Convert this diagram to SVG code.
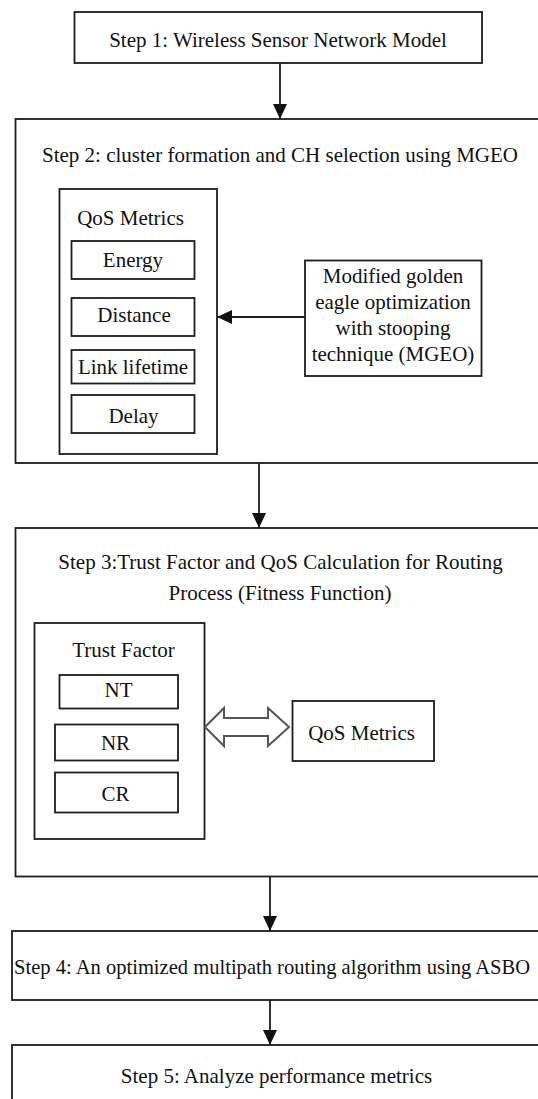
<svg xmlns="http://www.w3.org/2000/svg" width="538" height="1099" viewBox="0 0 538 1099">
<defs>
<style>
.box{fill:#fff;stroke:#1c1c1c;stroke-width:1.8}
text{font-family:'Liberation Serif','Times New Roman','DejaVu Serif',serif;font-size:21px;fill:#111}
.t{text-anchor:middle}
.ts{text-anchor:start}
.con{stroke:#1c1c1c;stroke-width:1.8;fill:none}
</style>
<marker id="ah" markerUnits="userSpaceOnUse" markerWidth="16" markerHeight="14" refX="15" refY="7" orient="auto">
<path d="M0,0 L15,7 L0,14 Z" fill="#111"/>
</marker>
</defs>
<rect width="538" height="1099" fill="#fff"/>

<g id="step1">
<rect class="box" x="74.5" y="12" width="407.5" height="51"/>
<text class="t" x="278" y="47" font-family="Liberation Serif, serif">Step 1: Wireless Sensor Network Model</text>
</g>

<g id="step2">
<rect class="box" x="15.5" y="119" width="560" height="344"/>
<text class="t" x="280" y="162" font-family="Liberation Serif, serif">Step 2: cluster formation and CH selection using MGEO</text>
</g>

<g id="qos2">
<rect class="box" x="59.5" y="189" width="157.5" height="265"/>
<text class="t" x="130.5" y="225" font-family="Liberation Serif, serif">QoS Metrics</text>
</g>
<g id="energy">
<rect class="box" x="71.5" y="241" width="123" height="38"/>
<text class="t" x="133" y="267" font-family="Liberation Serif, serif">Energy</text>
</g>
<g id="distance">
<rect class="box" x="71.5" y="298" width="123" height="38"/>
<text class="t" x="134" y="322" font-family="Liberation Serif, serif">Distance</text>
</g>
<g id="link">
<rect class="box" x="71.5" y="350" width="123" height="33.5"/>
<text class="t" x="133" y="374" font-family="Liberation Serif, serif">Link lifetime</text>
</g>
<g id="delay">
<rect class="box" x="71.5" y="395" width="123" height="38"/>
<text class="t" x="133.5" y="423" font-family="Liberation Serif, serif">Delay</text>
</g>

<g id="mgeo">
<rect class="box" x="305" y="260.5" width="176.5" height="115.5"/>
<text class="t" x="393" y="283" font-family="Liberation Serif, serif">Modified golden</text>
<text class="t" x="393" y="309" font-family="Liberation Serif, serif">eagle optimization</text>
<text class="t" x="393" y="335" font-family="Liberation Serif, serif">with stooping</text>
<text class="t" x="393" y="361" font-family="Liberation Serif, serif">technique (MGEO)</text>
</g>

<g id="step3">
<rect class="box" x="15.5" y="528" width="560" height="348.5"/>
<text class="t" x="280.5" y="569" font-family="Liberation Serif, serif">Step 3:Trust Factor and QoS Calculation for Routing</text>
<text class="t" x="280" y="600" font-family="Liberation Serif, serif">Process (Fitness Function)</text>
</g>

<g id="trust">
<rect class="box" x="34.5" y="623" width="170" height="216"/>
<text class="t" x="123.5" y="657" font-family="Liberation Serif, serif">Trust Factor</text>
</g>
<g id="nt">
<rect class="box" x="59.5" y="675" width="118.5" height="33.5"/>
<text class="t" x="118.5" y="697" font-family="Liberation Serif, serif">NT</text>
</g>
<g id="nr">
<rect class="box" x="55" y="724.5" width="123" height="36"/>
<text class="t" x="115.5" y="750" font-family="Liberation Serif, serif">NR</text>
</g>
<g id="cr">
<rect class="box" x="55" y="772.5" width="123" height="40"/>
<text class="t" x="115.5" y="801" font-family="Liberation Serif, serif">CR</text>
</g>

<g id="qos3">
<rect class="box" x="292.5" y="701" width="141.5" height="60"/>
<text class="t" x="361.5" y="740" font-family="Liberation Serif, serif">QoS Metrics</text>
</g>

<g id="step4">
<rect class="box" x="12" y="931" width="560" height="69"/>
<text class="ts" x="14" y="973.5" font-family="Liberation Serif, serif" textLength="516" lengthAdjust="spacingAndGlyphs">Step 4: An optimized multipath routing algorithm using ASBO</text>
</g>

<g id="step5">
<rect class="box" x="12" y="1045" width="560" height="80"/>
<text class="t" x="276.5" y="1083" font-family="Liberation Serif, serif">Step 5: Analyze performance metrics</text>
</g>

<g id="connectors">
<line class="con" x1="280" y1="63" x2="280" y2="119" marker-end="url(#ah)"/>
<line class="con" x1="305" y1="317" x2="217" y2="317" marker-end="url(#ah)"/>
<line class="con" x1="259" y1="463" x2="259" y2="528" marker-end="url(#ah)"/>
<line class="con" x1="270" y1="876.5" x2="270" y2="931" marker-end="url(#ah)"/>
<line class="con" x1="270" y1="1000" x2="270" y2="1045" marker-end="url(#ah)"/>
<polygon points="205,727 224,708 224,718 268,718 268,708 289,727 268,746 268,736 224,736 224,746" fill="#fff" stroke="#555" stroke-width="2" stroke-linejoin="miter"/>
</g>
</svg>
